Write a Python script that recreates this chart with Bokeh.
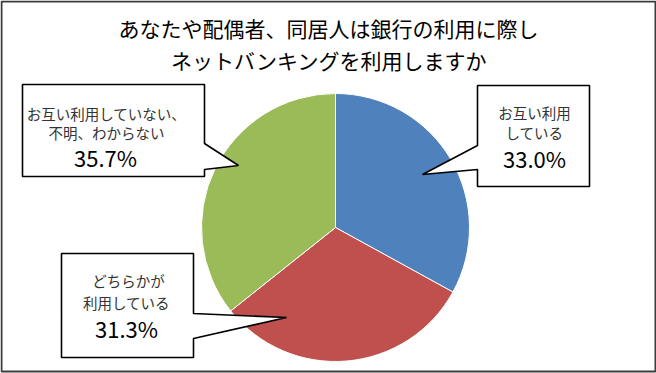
import numpy as np
from bokeh.plotting import figure
from bokeh.models import Range1d, ColumnDataSource
from bokeh.core.properties import value
from bokeh.embed import file_html
from bokeh.resources import INLINE

# ---- data ----
title_lines = ["あなたや配偶者、同居人は銀行の利用に際し", "ネットバンキングを利用しますか"]
categories = ["お互い利用している", "どちらかが利用している", "お互い利用していない、不明、わからない"]
values = [33.0, 31.3, 35.7]
label_lines = [["お互い利用", "している"],
               ["どちらかが", "利用している"],
               ["お互い利用していない、", "不明、わからない"]]
colors = ["#4F81BD", "#C0504D", "#9BBB59"]

FONT = value("Noto Sans CJK JP")

W, H = 656, 373
def Y(py):
    # page pixel y -> data y
    return H - py

p = figure(width=W, height=H, x_range=Range1d(0, W), y_range=Range1d(0, H),
           x_axis_type=None, y_axis_type=None, output_backend="svg",
           toolbar_location=None, min_border=0)
p.grid.visible = False
p.outline_line_color = None
p.background_fill_color = "white"
p.border_fill_color = "white"

# outer chart border
p.quad(left=[1], right=[655], bottom=[Y(371)], top=[Y(1)], fill_color=None,
       line_color="#3c3c3c", line_width=2)

# ---- pie ----
cx, cy, r = 335, 227, 134
vals = np.array(values)
cum = np.concatenate([[0], np.cumsum(vals)]) / vals.sum()
starts = np.pi / 2 - cum[:-1] * 2 * np.pi
ends = np.pi / 2 - cum[1:] * 2 * np.pi
src = ColumnDataSource(dict(start=starts, end=ends, color=colors, cat=categories))
p.wedge(x=cx, y=Y(cy), radius=r, start_angle="start", end_angle="end",
        direction="clock", fill_color="color", line_color="white", line_width=1,
        source=src)

# ---- callouts ----
callout_shapes = [
    # blue (right)
    [(477, 85), (589, 85), (589, 186), (477, 186), (477, 169), (422, 174), (477, 145)],
    # red (bottom-left)
    [(61, 253), (193, 253), (193, 313), (286, 317), (193, 338), (193, 357), (61, 357)],
    # green (top-left)
    [(22, 84), (204, 84), (204, 143), (238, 165), (204, 169), (204, 176), (22, 176)],
]
xs = [[pt[0] for pt in s] for s in callout_shapes]
ys = [[Y(pt[1]) for pt in s] for s in callout_shapes]
p.patches(xs, ys, fill_color="white", line_color="black", line_width=1.6)

text_pos = [
    [(534, 112), (534, 132), (534, 157)],
    [(128, 280), (126, 302), (126, 327)],
    [(106, 113), (106, 132), (105, 156)],
]
for i in range(3):
    (x1, y1), (x2, y2), (x3, y3) = text_pos[i]
    p.text(x=[x1, x2], y=[Y(y1), Y(y2)], text=label_lines[i], text_font=FONT,
           text_font_size="14.5px", text_color="#333333", text_align="center",
           text_baseline="middle")
    p.text(x=[x3], y=[Y(y3)], text=[f"{values[i]:.1f}%"], text_font=FONT,
           text_font_size="22px", text_color="black", text_align="center",
           text_baseline="middle")

# ---- title ----
p.text(x=[328, 328], y=[Y(27), Y(59)], text=title_lines, text_font=FONT,
       text_font_size="21px", text_color="black", text_align="center",
       text_baseline="middle")

open("out.html", "w").write(file_html(p, INLINE))
